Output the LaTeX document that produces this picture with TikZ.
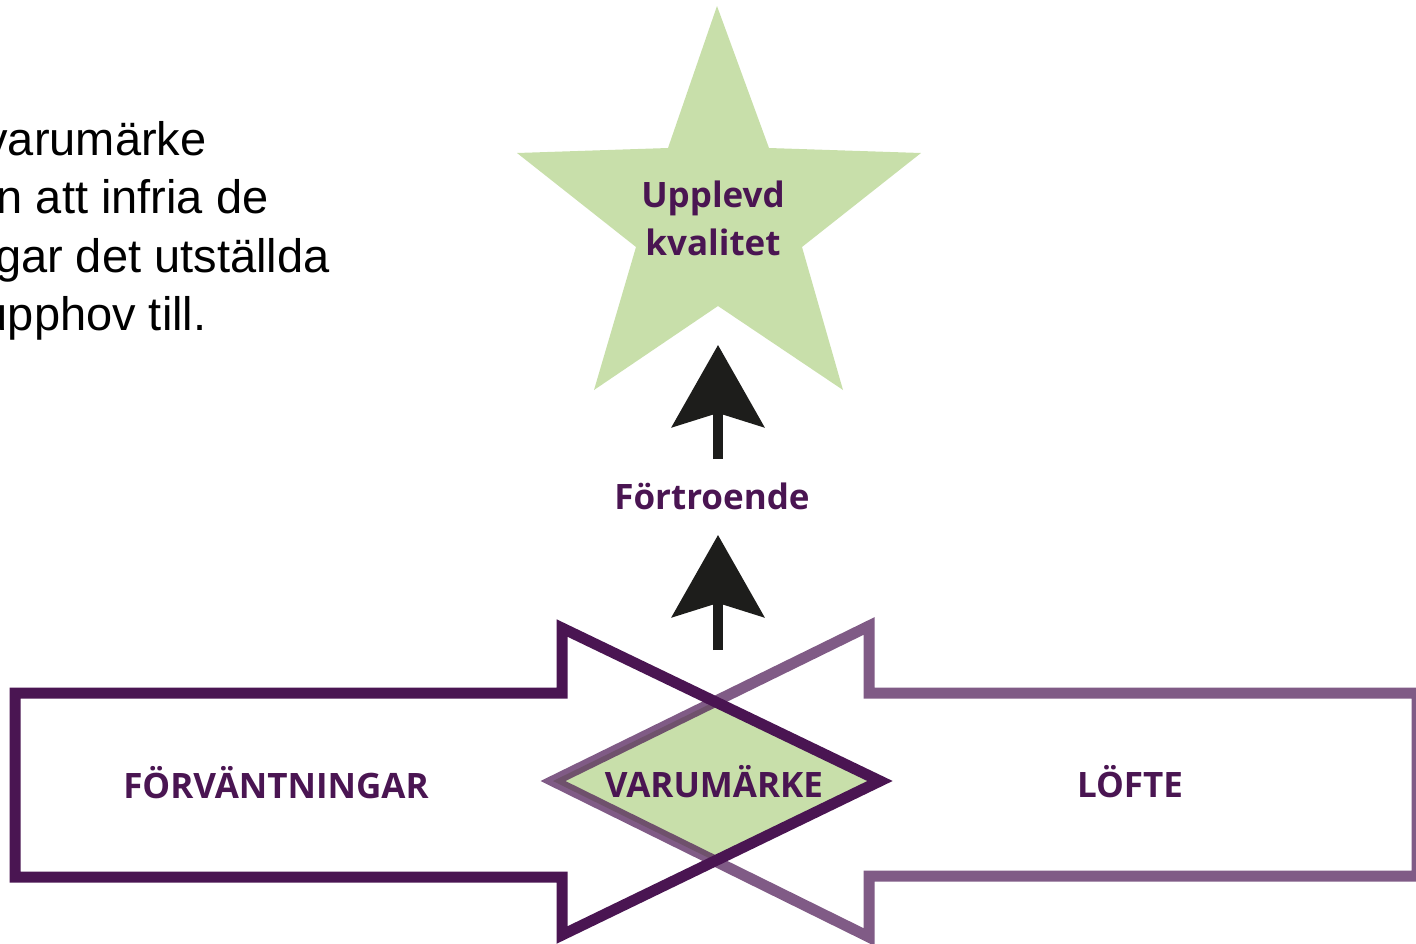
\documentclass[tikz,border=0pt]{standalone}
\usepackage{fontspec}
\setmainfont{Open Sans}
\newfontfamily\notefont{Liberation Sans}
\usetikzlibrary{arrows.meta}
\definecolor{brandpurple}{HTML}{4A1552}
\definecolor{stargreen}{HTML}{C8DFAA}
\definecolor{arrowblack}{HTML}{1D1D1B}
\begin{document}
\begin{tikzpicture}[x=1pt, y=-1pt,
  tag/.style={font=\fontsize{35}{42}\selectfont\bfseries, text=brandpurple, anchor=base},
  note/.style={font=\notefont\fontsize{47}{58}\selectfont, anchor=base east},
  outline/.style={draw=brandpurple, line width=11pt, miter limit=10},
  uparrow/.style={draw=arrowblack, line width=10pt, -{Stealth[length=82pt, width=92pt, inset=14pt]}}]
\useasboundingbox (0,0) rectangle (1416,943);

% text cut at the left edge
\node[note] (n1) at (210,155) {varumärke};
\node[note] (n2) at (272,213) {n att infria de};
\node[note] (n3) at (333,272) {gar det utställda};
\node[note] (n4) at (210,330) {upphov till.};

% star
\fill[stargreen] (717,6) -- (769,148) -- (921,153) -- (802,247) -- (843,390)
  -- (718,306) -- (594,390) -- (636,247) -- (517,153) -- (668,148) -- cycle;
\coordinate (starfoot) at (718,306);

% corners of the two big arrows
\coordinate (ltop) at (562,628);
\coordinate (lbot) at (562,935);
\coordinate (ltip) at (880,781);
\coordinate (rtop) at (869,626);
\coordinate (rbot) at (869,937);
\coordinate (rtip) at (553,781);

\fill[stargreen] (rtip) -- (intersection of ltop--ltip and rtop--rtip) -- (ltip)
  -- (intersection of lbot--ltip and rbot--rtip) -- cycle;
\draw[outline] (15,693) -- (562,693) -- (ltop) -- (ltip) -- (lbot) -- (562,877)
  -- (15,877) -- cycle;
\draw[outline, draw opacity=0.7] (1417,693) -- (869,693) -- (rtop) -- (rtip)
  -- (rbot) -- (869,876) -- (1417,876) -- cycle;

\begin{scope}[every node/.style=tag]
\node (expect) at (276,798) {FÖRVÄNTNINGAR};
\node (brand) at (714,797) {VARUMÄRKE};
\node (promise) at (1130,797) {LÖFTE};
\node (trust) at (712,509) {Förtroende};
\node (upl) at (713,207) {Upplevd};
\node (kval) at (713,255) {kvalitet};
\end{scope}

\draw[uparrow, shorten <=147pt, shorten >=26pt] (brand.base -| starfoot) -- (trust.base -| starfoot);
\draw[uparrow, shorten <=50pt, shorten >=39pt] (trust.base -| starfoot) -- (starfoot);
\end{tikzpicture}
\end{document}
